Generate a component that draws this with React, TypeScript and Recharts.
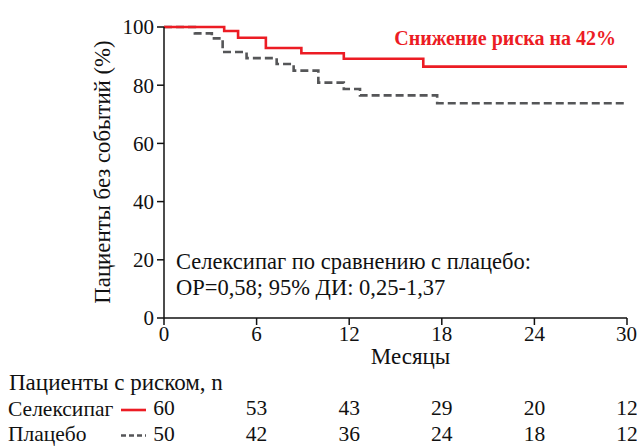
import React from 'react';
import { LineChart, Line, XAxis, YAxis } from 'recharts';

// Kaplan-Meier steps: [month, % event-free]
const selexipagSteps = [
  [0, 100], [3.9, 98.6], [4.8, 96.3], [6.6, 92.8], [8.9, 91.0],
  [11.65, 89.1], [16.8, 86.4], [30, 86.4],
];
const placeboSteps = [
  [0, 100], [2.0, 97.8], [3.1, 96.1], [3.8, 91.4], [5.35, 89.3],
  [7.3, 87.3], [8.4, 85.0], [10.0, 80.9], [11.65, 78.7], [12.7, 76.5],
  [17.7, 73.8], [30, 73.8],
];

const monthTicks = [0, 6, 12, 18, 24, 30];
const percentTicks = [0, 20, 40, 60, 80, 100];
const atRiskSelexipag = [60, 53, 43, 29, 20, 12];
const atRiskPlacebo = [50, 42, 36, 24, 18, 12];

const selexipagData = selexipagSteps.map(([month, pct]) => ({ month, pct }));
const placeboData = placeboSteps.map(([month, pct]) => ({ month, pct }));

const FONT = 'Liberation Serif';
const RED = '#ec1c24';
const GREY = '#555658';
const FS = 21;
const txt = { fontFamily: FONT, fontSize: FS };

const riskTick = (counts: number[]) => (props: any) => {
  const { x, y, payload } = props;
  const i = monthTicks.indexOf(payload.value);
  return (
    <text x={x} y={y} dy={43} textAnchor="middle" style={{ ...txt, fontSize: 21.5 }} fill="#111">
      {counts[i]}
    </text>
  );
};

const App: React.FC = () => {
  return (
    <div style={{ position: 'absolute', left: 0, top: 0, width: 637, height: 446, background: '#fff' }}>
      <LineChart width={637} height={446} data={selexipagData} margin={{ top: 27, right: 10, left: 0, bottom: 24 }}>
        <XAxis
          xAxisId="a_main"
          dataKey="month"
          type="number"
          domain={[0, 30]}
          ticks={monthTicks}
          height={52}
          tickSize={7}
          tickMargin={1}
          stroke="#111"
          strokeWidth={1.5}
          tick={{ fill: '#111', style: txt }}
          label={{ value: 'Месяцы', position: 'insideBottom', offset: 6, dx: 15, fill: '#111', style: { ...txt, fontSize: 23 } }}
        />
        <XAxis
          xAxisId="b_sel"
          dataKey="month"
          type="number"
          domain={[0, 30]}
          ticks={monthTicks}
          height={26}
          axisLine={false}
          tickLine={false}
          tickSize={0}
          tick={riskTick(atRiskSelexipag)}
        />
        <XAxis
          xAxisId="c_pla"
          dataKey="month"
          type="number"
          domain={[0, 30]}
          ticks={monthTicks}
          height={26}
          axisLine={false}
          tickLine={false}
          tickSize={0}
          tick={riskTick(atRiskPlacebo)}
        />
        <YAxis
          dataKey="pct"
          type="number"
          domain={[0, 100]}
          ticks={percentTicks}
          width={164}
          tickSize={7}
          tickMargin={3}
          stroke="#111"
          strokeWidth={1.5}
          tick={{ fill: '#111', style: txt }}
        />
        <Line
          xAxisId="a_main"
          data={placeboData}
          dataKey="pct"
          type="stepAfter"
          stroke={GREY}
          strokeWidth={2.6}
          strokeDasharray="8 4"
          dot={false}
          isAnimationActive={false}
        />
        <Line
          xAxisId="a_main"
          data={selexipagData}
          dataKey="pct"
          type="stepAfter"
          stroke={RED}
          strokeWidth={2.6}
          dot={false}
          isAnimationActive={false}
        />
      </LineChart>
      <svg width={637} height={446} style={{ position: 'absolute', left: 0, top: 0, pointerEvents: 'none' }}>
        <g fill="#111">
          <text x={616} y={45} textAnchor="end" fill={RED} style={{ ...txt, fontWeight: 'bold', fontSize: 20 }}>
            Снижение риска на 42%
          </text>
          <text x={176} y={269} style={{ ...txt, fontSize: 22.5 }}>Селексипаг по сравнению с плацебо:</text>
          <text x={176} y={295} style={{ ...txt, fontSize: 22.5 }}>ОР=0,58; 95% ДИ: 0,25-1,37</text>
          <text transform="translate(110,172) rotate(-90)" textAnchor="middle" style={{ ...txt, fontSize: 22.8 }}>
            Пациенты без событий (%)
          </text>
          <text x={9} y={390} style={{ ...txt, fontSize: 23 }}>Пациенты с риском, n</text>
          <text x={8} y={416} style={{ ...txt, fontSize: 21.5 }}>Селексипаг</text>
          <text x={8} y={441} style={{ ...txt, fontSize: 21.5 }}>Плацебо</text>
        </g>
        <line x1={121} y1={410} x2={146} y2={410} stroke={RED} strokeWidth={2.6} />
        <line x1={121} y1={435.5} x2={146} y2={435.5} stroke={GREY} strokeWidth={2.6} strokeDasharray="5 3" />
      </svg>
    </div>
  );
};

export default App;
